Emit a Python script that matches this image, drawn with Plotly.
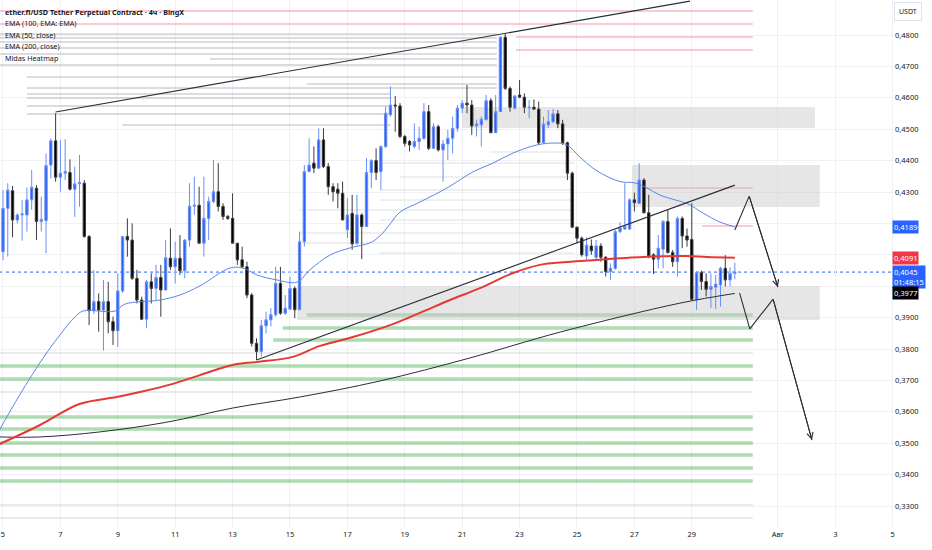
import pandas as pd
import plotly.graph_objects as go

# 4h candles, ether.fi / USDT (BingX)
candle_start = "2024-07-05 00:00"
opens = [0.4110, 0.4248, 0.4304, 0.4211, 0.4227, 0.4227, 0.4275, 0.4312, 0.4206, 0.4209,
         0.4386, 0.4463, 0.4347, 0.4360, 0.4362, 0.4309, 0.4326, 0.4328, 0.4158, 0.3922,
         0.3951, 0.3924, 0.3951, 0.3887, 0.3858, 0.3985, 0.4158, 0.4147, 0.4025, 0.3956,
         0.3895, 0.4014, 0.3993, 0.4028, 0.3988, 0.4089, 0.4062, 0.4089, 0.4049, 0.4147,
         0.4255, 0.4258, 0.4137, 0.4216, 0.4270, 0.4301, 0.4254, 0.4222, 0.4216, 0.4137,
         0.4084, 0.4062, 0.3972, 0.3818, 0.3792, 0.3874, 0.3893, 0.3909, 0.4009, 0.3914,
         0.3927, 0.3993, 0.3925, 0.4142, 0.4365, 0.4392, 0.4376, 0.4466, 0.4381, 0.4317,
         0.4309, 0.4296, 0.4180, 0.4232, 0.4137, 0.4227, 0.4190, 0.4362, 0.4400, 0.4365,
         0.4445, 0.4546, 0.4577, 0.4574, 0.4477, 0.4461, 0.4445, 0.4461, 0.4471, 0.4556,
         0.4439, 0.4508, 0.4434, 0.4453, 0.4471, 0.4503, 0.4567, 0.4583, 0.4577, 0.4510,
         0.4514, 0.4530, 0.4591, 0.4489, 0.4556, 0.4793, 0.4630, 0.4567, 0.4609, 0.4602,
         0.4568, 0.4570, 0.4564, 0.4457, 0.4514, 0.4524, 0.4549, 0.4517, 0.4457, 0.4360,
         0.4188, 0.4153, 0.4096, 0.4128, 0.4092, 0.4128, 0.4092, 0.4047, 0.4057, 0.4174,
         0.4182, 0.4182, 0.4275, 0.4264, 0.4338, 0.4234, 0.4100, 0.4086, 0.4118, 0.4206,
         0.4107, 0.4078, 0.4216, 0.4160, 0.4149, 0.3956, 0.4043, 0.4015, 0.3990, 0.3997,
         0.4004, 0.4057, 0.4020, 0.4041]
highs = [0.4306, 0.4328, 0.4319, 0.4232, 0.4275, 0.4315, 0.4370, 0.4322, 0.4285, 0.4423,
         0.4471, 0.4551, 0.4466, 0.4468, 0.4404, 0.4381, 0.4418, 0.4338, 0.4163, 0.4052,
         0.3977, 0.4020, 0.4014, 0.3903, 0.4041, 0.4160, 0.4216, 0.4200, 0.4052, 0.3967,
         0.4020, 0.4041, 0.4068, 0.4068, 0.4147, 0.4184, 0.4142, 0.4163, 0.4150, 0.4328,
         0.4349, 0.4317, 0.4349, 0.4285, 0.4402, 0.4392, 0.4264, 0.4227, 0.4296, 0.4137,
         0.4126, 0.4078, 0.3978, 0.3834, 0.3893, 0.3919, 0.3930, 0.4062, 0.4062, 0.3972,
         0.4031, 0.3999, 0.4174, 0.4386, 0.4471, 0.4445, 0.4503, 0.4503, 0.4392, 0.4328,
         0.4328, 0.4333, 0.4280, 0.4291, 0.4291, 0.4232, 0.4408, 0.4405, 0.4439, 0.4448,
         0.4572, 0.4636, 0.4606, 0.4583, 0.4482, 0.4466, 0.4519, 0.4508, 0.4583, 0.4577,
         0.4519, 0.4514, 0.4466, 0.4498, 0.4540, 0.4577, 0.4593, 0.4641, 0.4593, 0.4530,
         0.4540, 0.4609, 0.4599, 0.4609, 0.4795, 0.4805, 0.4636, 0.4609, 0.4657, 0.4614,
         0.4593, 0.4595, 0.4588, 0.4540, 0.4561, 0.4564, 0.4561, 0.4530, 0.4460, 0.4365,
         0.4190, 0.4158, 0.4156, 0.4149, 0.4147, 0.4137, 0.4096, 0.4073, 0.4179, 0.4203,
         0.4328, 0.4280, 0.4298, 0.4392, 0.4344, 0.4291, 0.4105, 0.4163, 0.4211, 0.4243,
         0.4115, 0.4222, 0.4222, 0.4184, 0.4264, 0.4047, 0.4050, 0.4041, 0.4041, 0.4036,
         0.4062, 0.4099, 0.4060, 0.4075]
lows = [0.4083, 0.4094, 0.4156, 0.4200, 0.4145, 0.4174, 0.4243, 0.4147, 0.4174, 0.4105,
        0.4343, 0.4333, 0.4301, 0.4338, 0.4305, 0.4221, 0.4253, 0.4155, 0.3876, 0.3912,
        0.3855, 0.3795, 0.3850, 0.3813, 0.3807, 0.3978, 0.4094, 0.4020, 0.3945, 0.3892,
        0.3866, 0.3945, 0.3956, 0.3903, 0.3986, 0.4052, 0.4009, 0.4036, 0.4025, 0.4126,
        0.4227, 0.4137, 0.4094, 0.4147, 0.4264, 0.4238, 0.4211, 0.4211, 0.4137, 0.4068,
        0.4057, 0.3962, 0.3808, 0.3765, 0.3776, 0.3850, 0.3872, 0.3903, 0.3909, 0.3909,
        0.3925, 0.3898, 0.3925, 0.4126, 0.4365, 0.4360, 0.4376, 0.4376, 0.4291, 0.4270,
        0.4248, 0.4211, 0.4153, 0.4116, 0.4131, 0.4086, 0.4190, 0.4312, 0.4338, 0.4307,
        0.4440, 0.4540, 0.4492, 0.4471, 0.4445, 0.4429, 0.4439, 0.4434, 0.4466, 0.4434,
        0.4439, 0.4429, 0.4333, 0.4402, 0.4423, 0.4492, 0.4551, 0.4551, 0.4482, 0.4477,
        0.4445, 0.4530, 0.4487, 0.4489, 0.4556, 0.4625, 0.4556, 0.4564, 0.4599, 0.4551,
        0.4535, 0.4561, 0.4450, 0.4455, 0.4503, 0.4519, 0.4503, 0.4450, 0.4338, 0.4185,
        0.4137, 0.4094, 0.4084, 0.4100, 0.4084, 0.4078, 0.4031, 0.4020, 0.4052, 0.4169,
        0.4179, 0.4179, 0.4238, 0.4264, 0.4232, 0.4089, 0.4039, 0.4057, 0.4057, 0.4105,
        0.4062, 0.4031, 0.4121, 0.4126, 0.3954, 0.3925, 0.3988, 0.3967, 0.3930, 0.3927,
        0.3935, 0.3999, 0.3999, 0.4022]
closes = [0.4248, 0.4306, 0.4211, 0.4227, 0.4230, 0.4275, 0.4315, 0.4206, 0.4213, 0.4384,
          0.4463, 0.4347, 0.4360, 0.4365, 0.4309, 0.4326, 0.4330, 0.4158, 0.3922, 0.3951,
          0.3924, 0.3951, 0.3887, 0.3858, 0.3985, 0.4158, 0.4147, 0.4025, 0.3956, 0.3895,
          0.4014, 0.3993, 0.4028, 0.3988, 0.4091, 0.4062, 0.4089, 0.4049, 0.4147, 0.4255,
          0.4258, 0.4137, 0.4216, 0.4270, 0.4301, 0.4254, 0.4222, 0.4216, 0.4137, 0.4084,
          0.4062, 0.3972, 0.3818, 0.3792, 0.3874, 0.3893, 0.3909, 0.4009, 0.3914, 0.3930,
          0.3993, 0.3925, 0.4142, 0.4365, 0.4386, 0.4376, 0.4466, 0.4381, 0.4317, 0.4301,
          0.4296, 0.4211, 0.4227, 0.4135, 0.4227, 0.4190, 0.4362, 0.4400, 0.4362, 0.4445,
          0.4551, 0.4577, 0.4574, 0.4477, 0.4455, 0.4450, 0.4461, 0.4471, 0.4556, 0.4439,
          0.4508, 0.4434, 0.4453, 0.4471, 0.4503, 0.4567, 0.4583, 0.4577, 0.4510, 0.4517,
          0.4532, 0.4591, 0.4489, 0.4556, 0.4793, 0.4630, 0.4570, 0.4606, 0.4602, 0.4570,
          0.4570, 0.4564, 0.4457, 0.4517, 0.4524, 0.4549, 0.4517, 0.4457, 0.4360, 0.4188,
          0.4153, 0.4100, 0.4131, 0.4113, 0.4128, 0.4092, 0.4047, 0.4057, 0.4174, 0.4185,
          0.4190, 0.4275, 0.4266, 0.4338, 0.4234, 0.4096, 0.4086, 0.4121, 0.4206, 0.4107,
          0.4078, 0.4216, 0.4160, 0.4147, 0.3958, 0.4043, 0.4015, 0.3990, 0.3999, 0.4007,
          0.4057, 0.4020, 0.4041, 0.4045]

# moving averages (sampled from the drawn curves)
ema50_time = ["2024-07-04 21:00", "2024-07-05 14:00", "2024-07-06 09:30", "2024-07-06 23:40",
              "2024-07-07 12:10", "2024-07-07 19:00", "2024-07-08 21:40", "2024-07-09 06:00",
              "2024-07-10 11:20", "2024-07-11 04:00", "2024-07-11 20:40", "2024-07-12 21:50",
              "2024-07-13 08:40", "2024-07-13 20:20", "2024-07-14 13:00", "2024-07-15 05:50",
              "2024-07-15 16:40", "2024-07-16 09:20", "2024-07-17 02:10", "2024-07-17 18:50",
              "2024-07-18 03:10", "2024-07-18 11:40", "2024-07-18 20:00", "2024-07-19 12:40",
              "2024-07-20 11:20", "2024-07-21 09:00", "2024-07-22 01:40", "2024-07-22 18:30",
              "2024-07-23 14:30", "2024-07-24 07:20", "2024-07-24 15:40", "2024-07-25 02:30",
              "2024-07-25 13:20", "2024-07-26 03:40", "2024-07-26 13:40", "2024-07-27 00:30",
              "2024-07-27 10:30", "2024-07-27 21:20", "2024-07-28 10:00", "2024-07-28 20:50",
              "2024-07-29 09:20", "2024-07-29 23:40", "2024-07-30 12:00"]
ema50_val = [0.3542, 0.3654, 0.3771, 0.3845, 0.3902, 0.3921, 0.3921, 0.3943, 0.3956, 0.3972,
             0.4001, 0.4058, 0.4058, 0.4036, 0.4020, 0.4013, 0.4052, 0.4099, 0.4122, 0.4138,
             0.4160, 0.4198, 0.4236, 0.4268, 0.4313, 0.4364, 0.4392, 0.4424, 0.4450, 0.4456,
             0.4450, 0.4411, 0.4376, 0.4345, 0.4332, 0.4329, 0.4313, 0.4290, 0.4275, 0.4262,
             0.4233, 0.4204, 0.4189]

ema100_time = ["2024-07-04 21:00", "2024-07-06 07:00", "2024-07-07 16:00", "2024-07-08 23:00",
               "2024-07-09 18:30", "2024-07-10 22:00", "2024-07-11 20:40", "2024-07-13 00:00",
               "2024-07-13 20:00", "2024-07-15 02:30", "2024-07-16 01:00", "2024-07-17 04:40",
               "2024-07-18 11:40", "2024-07-19 12:40", "2024-07-20 13:50", "2024-07-21 14:50",
               "2024-07-22 18:30", "2024-07-23 17:00", "2024-07-24 15:40", "2024-07-25 13:20",
               "2024-07-27 07:10", "2024-07-28 20:00", "2024-07-29 12:40", "2024-07-30 12:00"]
ema100_val = [0.3497, 0.3558, 0.3625, 0.3647, 0.3663, 0.3689, 0.3717, 0.3749, 0.3759, 0.3775,
              0.3810, 0.3838, 0.3876, 0.3915, 0.3956, 0.3994, 0.4042, 0.4068, 0.4077, 0.4083,
              0.4093, 0.4096, 0.4093, 0.4091]

ema200_time = ["2024-07-04 21:00", "2024-07-06 07:00", "2024-07-08 09:00", "2024-07-10 17:00",
               "2024-07-13 00:00", "2024-07-15 08:00", "2024-07-18 03:00", "2024-07-21 06:00",
               "2024-07-24 10:00", "2024-07-28 14:00", "2024-07-30 12:00"]
ema200_val = [0.3520, 0.3520, 0.3536, 0.3567, 0.3612, 0.3647, 0.3698, 0.3771, 0.3854, 0.3946,
              0.3977]

# drawn trend lines and the forecast path
upper_line_time = ["2024-07-06 20:00", "2024-07-28 22:30"]
upper_line_val = [0.4555, 0.4908]
lower_line_time = ["2024-07-13 20:00", "2024-07-30 12:00"]
lower_line_val = [0.3765, 0.4322]
path1_time = ["2024-07-30 12:00", "2024-07-31 00:00", "2024-08-01 00:00"]
path1_val = [0.4179, 0.4287, 0.3997]
path2_time = ["2024-07-30 16:00", "2024-07-31 00:30", "2024-07-31 20:00", "2024-08-02 04:30"]
path2_val = [0.3978, 0.3864, 0.3959, 0.3510]

# zones
zone_top = [0.45707, 0.43860, 0.40006]
zone_bottom = [0.45038, 0.42522, 0.38924]
zone_start = ["2024-07-21 00:00", "2024-07-26 22:00", "2024-07-15 06:00"]
zone_end = ["2024-08-02 07:00", "2024-08-02 11:00", "2024-08-02 11:00"]

# Midas heatmap levels
chart_start = "2024-07-04 21:30"
chart_end = "2024-08-05 01:06"
heat_end = "2024-07-31 03:00"
pink_levels = [0.48765, 0.48350, 0.47936, 0.47522, 0.43127, 0.41917]
pink_start = [chart_start, chart_start, "2024-07-22 21:00", "2024-07-22 21:00",
              "2024-07-27 04:40", "2024-07-29 08:30"]
green_levels = [0.39083, 0.38669, 0.38287, 0.37459, 0.37045, 0.35834, 0.35452, 0.35006,
                0.34624, 0.34210, 0.33796]
green_start = ["2024-07-15 14:00", "2024-07-14 18:00", "2024-07-14 10:00"] + [chart_start] * 8
grey_levels = [0.37873, 0.36631, 0.33032, 0.32618]
upper_heat_levels = [0.48032, 0.47904, 0.47777, 0.47586, 0.47395, 0.47236, 0.47045, 0.46662,
                     0.46439, 0.46312, 0.46121, 0.45994, 0.45739, 0.45484, 0.45134]
upper_heat_start = [chart_start] * 5 + ["2024-07-12 05:00", chart_start, "2024-07-05 20:00",
                    "2024-07-15 14:00"] + ["2024-07-05 20:00"] * 5 + ["2024-07-09 04:00"]
upper_heat_end = ["2024-07-22 05:00"] * 10 + ["2024-07-18 12:00"] * 5
mid_heat_levels = [0.44274, 0.43924, 0.43478, 0.43064, 0.42745, 0.42427, 0.42108, 0.41694,
                   0.41376, 0.41057]
mid_heat_start = ["2024-07-21 23:00", "2024-07-18 03:00", "2024-07-18 20:00", "2024-07-18 03:00",
                  "2024-07-18 03:00", "2024-07-15 08:00", "2024-07-18 03:00", "2024-07-15 08:00",
                  "2024-07-15 08:00", "2024-07-18 03:00"]
mid_heat_end = "2024-07-24 22:00"

tick_dates = ["2024-07-05", "2024-07-07", "2024-07-09", "2024-07-11", "2024-07-13", "2024-07-15",
              "2024-07-17", "2024-07-19", "2024-07-21", "2024-07-23", "2024-07-25", "2024-07-27",
              "2024-07-29", "2024-08-01", "2024-08-03", "2024-08-05"]
tick_text = ["5", "7", "9", "11", "13", "15", "17", "19", "21", "23", "25", "27", "29",
             "Авг", "3", "5"]
price_ticks = [0.33, 0.34, 0.35, 0.36, 0.37, 0.38, 0.39, 0.40, 0.41, 0.42, 0.43, 0.44, 0.45,
               0.46, 0.47, 0.48]
# 0,4000 - 0,4200 sit under the last-value badges
price_tick_text = ["0,3300", "0,3400", "0,3500", "0,3600", "0,3700", "0,3800", "0,3900", "",
                   "", "", "0,4300", "0,4400", "0,4500", "0,4600", "0,4700", "0,4800"]

legend_lines = ["<b>ether.fi/USD Tether Perpetual Contract · 4ч · BingX</b>",
                "EMA (100, EMA: EMA)", "EMA (50, close)", "EMA (200, close)", "Midas Heatmap"]

last_vals = [0.4189, 0.4091, 0.4045, 0.3977]
last_text = ["0,4189", "0,4091", "0,4045<br>01:48:15", "0,3977"]
last_colors = ["#2962ff", "#f23645", "#2962ff", "#000000"]
current_price = 0.4045

FONT = "Noto Sans"
times = pd.date_range(candle_start, periods=len(opens), freq="4h")

fig = go.Figure()

# heatmap lines
def hline(x0, x1, y, color, width):
    fig.add_shape(type="line", xref="x", yref="y", x0=x0, x1=x1, y0=y, y1=y,
                  line=dict(color=color, width=width), layer="between")

for lvl, s, e in zip(upper_heat_levels, upper_heat_start, upper_heat_end):
    hline(s, e, lvl, "rgba(150,152,160,0.45)", 1.5)
for lvl, s in zip(mid_heat_levels, mid_heat_start):
    hline(s, mid_heat_end, lvl, "rgba(170,172,180,0.25)", 1.5)
for lvl in grey_levels:
    hline(chart_start, heat_end, lvl, "rgba(170,172,180,0.35)", 1.5)
for lvl, s in zip(pink_levels, pink_start):
    hline(s, heat_end, lvl, "rgba(242,54,69,0.35)", 1.5)
for lvl, s in zip(green_levels, green_start):
    hline(s, heat_end, lvl, "rgba(76,175,80,0.45)", 3.5)

for t, b, s, e in zip(zone_top, zone_bottom, zone_start, zone_end):
    fig.add_shape(type="rect", xref="x", yref="y", x0=s, x1=e, y0=b, y1=t,
                  fillcolor="rgba(200,200,200,0.45)", line=dict(width=0), layer="between")

fig.add_shape(type="line", xref="paper", yref="y", x0=0, x1=1, y0=current_price,
              y1=current_price, line=dict(color="#2962ff", width=1, dash="dot"), layer="between")

# moving averages
fig.add_trace(go.Scatter(x=ema200_time, y=ema200_val, mode="lines",
                         line=dict(color="#2a2e39", width=1, shape="spline"), hoverinfo="skip"))
fig.add_trace(go.Scatter(x=ema100_time, y=ema100_val, mode="lines",
                         line=dict(color="#e53935", width=2, shape="spline"), hoverinfo="skip"))
fig.add_trace(go.Scatter(x=ema50_time, y=ema50_val, mode="lines",
                         line=dict(color="#5a86e8", width=1, shape="spline"), hoverinfo="skip"))

# trend lines
for tx, ty in [(upper_line_time, upper_line_val), (lower_line_time, lower_line_val),
               (path1_time, path1_val), (path2_time, path2_val)]:
    fig.add_trace(go.Scatter(x=tx, y=ty, mode="lines", line=dict(color="#2a2e39", width=1.1),
                             hoverinfo="skip"))

fig.add_trace(go.Candlestick(
    x=times, open=opens, high=highs, low=lows, close=closes,
    increasing=dict(fillcolor="#2962ff", line=dict(color="#6a8ef2", width=1)),
    decreasing=dict(fillcolor="#000000", line=dict(color="#3a3a3a", width=1)),
    whiskerwidth=0,
))

# arrow heads at the end of the projected path
for tx, ty in [(path1_time, path1_val), (path2_time, path2_val)]:
    fig.add_annotation(x=tx[-1], y=ty[-1], ax=tx[-2], ay=ty[-2], xref="x", yref="y",
                       axref="x", ayref="y", text="", showarrow=True, arrowhead=5,
                       arrowsize=1.2, arrowwidth=1, arrowcolor="#2a2e39")

# pane legend
for i, txt in enumerate(legend_lines):
    fig.add_annotation(xref="paper", yref="paper", x=0, y=1 - (12 + 11.4 * i) / 528,
                       xanchor="left", yanchor="middle", xshift=3, text=txt, showarrow=False,
                       font=dict(family=FONT, size=7.2, color="#131722"))

# price axis labels
for v, t, c in zip(last_vals, last_text, last_colors):
    two = "<br>" in t
    fig.add_annotation(xref="paper", yref="y", x=1, y=v, xanchor="left",
                       yanchor="top" if two else "middle", yshift=7 if two else 0,
                       xshift=-2, text=t, showarrow=False, bgcolor=c, borderpad=1,
                       font=dict(family=FONT, size=7.5, color="white"), align="left")

fig.add_annotation(xref="paper", yref="paper", x=1, y=1 - 12 / 528, xanchor="left",
                   yanchor="middle", xshift=0, text="USDT", showarrow=False,
                   bordercolor="#e0e3eb", borderwidth=1, borderpad=4, bgcolor="white",
                   font=dict(family=FONT, size=7, color="#131722"))

fig.update_layout(
    width=932, height=550,
    margin=dict(l=0, r=38, t=0, b=22),
    paper_bgcolor="white", plot_bgcolor="white",
    showlegend=False,
    font=dict(family=FONT, size=7.5, color="#131722"),
    xaxis=dict(type="date", range=[chart_start, chart_end], automargin=False,
               tickvals=tick_dates, ticktext=tick_text, showgrid=True,
               gridcolor="#f0f1f4", gridwidth=1, zeroline=False, showline=False,
               ticks="", ticklen=0, tickfont=dict(size=7.5), rangeslider=dict(visible=False)),
    yaxis=dict(side="right", range=[0.3230, 0.49115], tickvals=price_ticks,
               ticktext=price_tick_text, automargin=False, showgrid=True,
               gridcolor="#f0f1f4", zeroline=False, showline=False, ticks="",
               tickfont=dict(size=7.5)),
)

# the page body has a default 8px margin; drop it so the figure sits at the window corner
fig.write_html("out.html", config={"displayModeBar": False},
               post_script="document.body.style.margin='0';")
